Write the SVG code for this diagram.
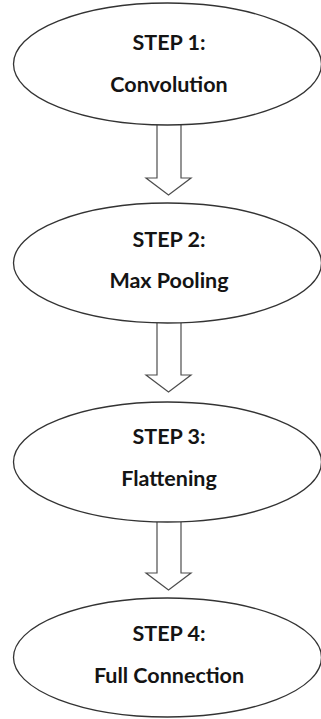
<svg xmlns="http://www.w3.org/2000/svg" width="321" height="719" viewBox="0 0 321 719">
  <style>
    .node ellipse { fill: #ffffff; stroke: #333333; stroke-width: 1.3; }
    .node text { font-family: Lato, "Open Sans", "Liberation Sans", sans-serif; font-weight: bold; font-size: 21.5px; fill: #141414; text-anchor: middle; }
    .arrow { fill: #ffffff; stroke: #4d4d4d; stroke-width: 1.2; stroke-linejoin: miter; }
  </style>
  <rect width="321" height="719" fill="#ffffff"/>

  <!-- block arrows between the steps -->
  <g id="connectors">
    <path class="arrow" d="M157,125 V178 H146 L168.5,195 L191,178 H181 V125"/>
    <path class="arrow" d="M157,323 V375 H146 L168.5,392 L191,375 H181 V323"/>
    <path class="arrow" d="M157,522 V573 H146 L168.5,590 L191,573 H181 V522"/>
  </g>

  <g id="step1" class="node">
    <ellipse cx="167.5" cy="64" rx="154" ry="61"/>
    <text x="169" y="50">STEP 1:</text>
    <text x="169" y="92">Convolution</text>
  </g>

  <g id="step2" class="node">
    <ellipse cx="167.5" cy="263" rx="154" ry="60"/>
    <text x="169" y="247">STEP 2:</text>
    <text x="169" y="288">Max Pooling</text>
  </g>

  <g id="step3" class="node">
    <ellipse cx="167.5" cy="462" rx="154" ry="60"/>
    <text x="169" y="444">STEP 3:</text>
    <text x="169" y="486">Flattening</text>
  </g>

  <g id="step4" class="node">
    <ellipse cx="167.5" cy="657.5" rx="154" ry="59.5"/>
    <text x="169" y="641">STEP 4:</text>
    <text x="169" y="683">Full Connection</text>
  </g>
</svg>
